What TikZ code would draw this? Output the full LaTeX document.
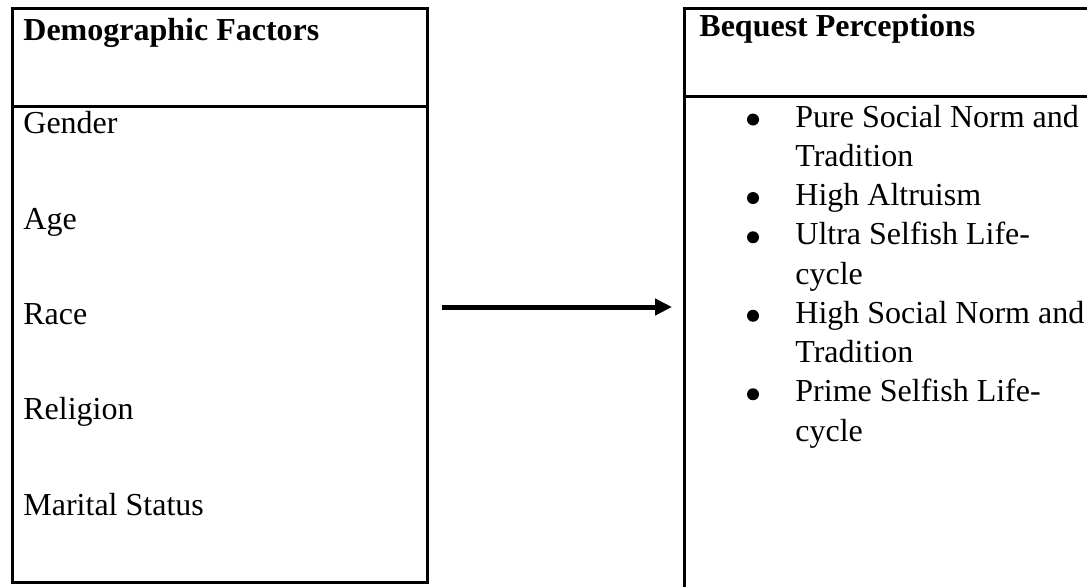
\documentclass[tikz,border=0pt]{standalone}
\usepackage{fontspec}
\setmainfont{Liberation Serif}
\usetikzlibrary{arrows.meta}

\begin{document}
\begin{tikzpicture}[x=0.5pt,y=-0.5pt,
  panel/.style={draw,line width=1.5pt,anchor=north west,inner sep=0pt,outer sep=0pt},
  txt/.style={anchor=base west,inner sep=0pt,font=\fontsize{16}{19.65}\selectfont},
  head/.style={txt,font=\fontsize{16}{19.65}\selectfont\bfseries},
  dot/.style={circle,fill,inner sep=0pt,minimum size=6pt,yshift=3.75pt},
  flow/.style={line width=2.5pt,-{Triangle[length=8.5pt,width=8pt]}}]
\clip (0,0) rectangle (1087,586);
% the two panels
\node [panel,minimum width=207.5pt,minimum height=287pt] (dem) at (12,8) {};
\node [panel,minimum width=210pt,minimum height=300pt] (beq) at (684,8) {};
\coordinate (demcut) at (0,106);
\coordinate (beqcut) at (0,96);
\draw [line width=1.5pt] (dem.west |- demcut) -- (dem.east |- demcut);
\draw [line width=1.5pt] (beq.west |- beqcut) -- (beq.east |- beqcut);
% headings
\node [head] (demhead) at (23,40) {Demographic Factors};
\node [head] (beqhead) at (699,36) {Bequest Perceptions};
% left column
\node [txt] (gender) at (23,133) {Gender};
\node [txt] (age) at (23,229) {Age};
\node [txt] (race) at (23,324) {Race};
\node [txt] (religion) at (23,419) {Religion};
\node [txt] (marital) at (23,515) {Marital Status};
% right column
\node [dot] (b1) at (753,127) {};
\node [txt] (pure) at (795,127) {Pure Social Norm and};
\node [txt] (pure2) at (795,166.25) {Tradition};
\node [dot] (b2) at (753,205.5) {};
\node [txt] (altru) at (795,205.5) {High Altruism};
\node [dot] (b3) at (753,244.75) {};
\node [txt] (ultra) at (795,244.75) {Ultra Selfish Life-};
\node [txt] (ultra2) at (795,284) {cycle};
\node [dot] (b4) at (753,323.25) {};
\node [txt] (high) at (795,323.25) {High Social Norm and};
\node [txt] (high2) at (795,362.5) {Tradition};
\node [dot] (b5) at (753,401.75) {};
\node [txt] (prime) at (795,401.75) {Prime Selfish Life-};
\node [txt] (prime2) at (795,441) {cycle};
% connector
\coordinate (level) at (0,307);
\draw [flow,shorten <=7.5pt,shorten >=6pt] (dem.east |- level) -- (beq.west |- level);
\end{tikzpicture}
\end{document}
